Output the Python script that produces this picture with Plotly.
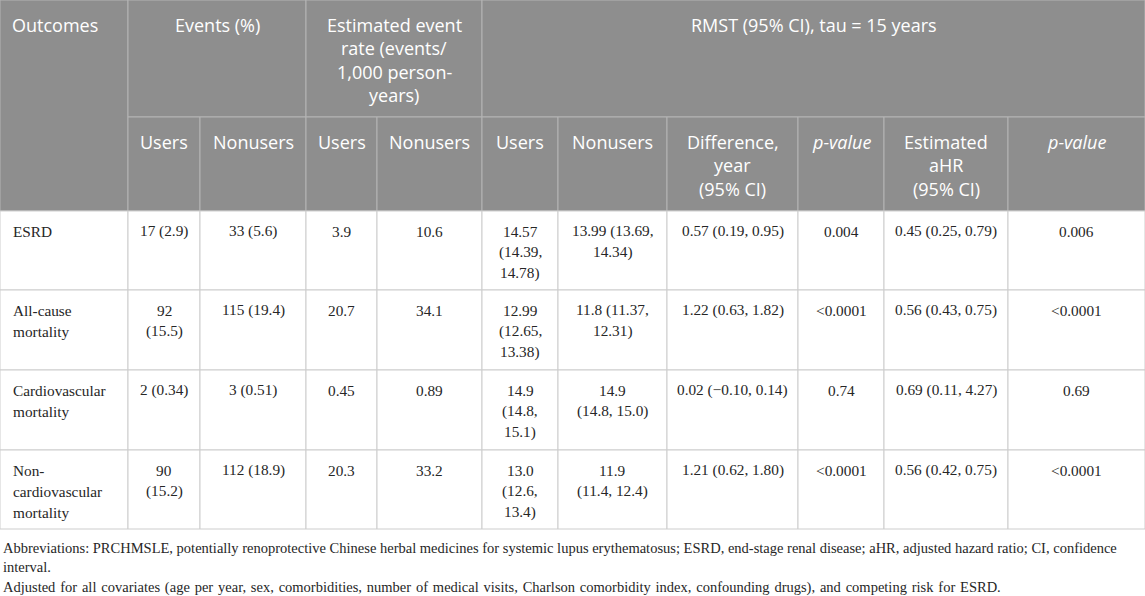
import plotly.graph_objects as go

# ---------------- data ----------------
outcomes = ["ESRD", "All-cause\nmortality", "Cardiovascular\nmortality", "Non-\ncardiovascular\nmortality"]
events_users = ["17 (2.9)", "92\n(15.5)", "2 (0.34)", "90\n(15.2)"]
events_nonusers = ["33 (5.6)", "115 (19.4)", "3 (0.51)", "112 (18.9)"]
rate_users = ["3.9", "20.7", "0.45", "20.3"]
rate_nonusers = ["10.6", "34.1", "0.89", "33.2"]
rmst_users = ["14.57\n(14.39,\n14.78)", "12.99\n(12.65,\n13.38)", "14.9\n(14.8,\n15.1)", "13.0\n(12.6,\n13.4)"]
rmst_nonusers = ["13.99 (13.69,\n14.34)", "11.8 (11.37,\n12.31)", "14.9\n(14.8, 15.0)", "11.9\n(11.4, 12.4)"]
rmst_diff = ["0.57 (0.19, 0.95)", "1.22 (0.63, 1.82)", "0.02 (\u22120.10, 0.14)", "1.21 (0.62, 1.80)"]
rmst_p = ["0.004", "<0.0001", "0.74", "<0.0001"]
ahr = ["0.45 (0.25, 0.79)", "0.56 (0.43, 0.75)", "0.69 (0.11, 4.27)", "0.56 (0.42, 0.75)"]
ahr_p = ["0.006", "<0.0001", "0.69", "<0.0001"]

group_headers = ["Outcomes", "Events (%)", "Estimated event\nrate (events/\n1,000 person-\nyears)",
                 "RMST (95% CI), tau = 15 years"]
sub_headers = ["Users", "Nonusers", "Users", "Nonusers", "Users", "Nonusers",
               "Difference,\nyear\n(95% CI)", "<i>p-value</i>", "Estimated\naHR\n(95% CI)", "<i>p-value</i>"]

footnotes = [
    "Abbreviations: PRCHMSLE, potentially renoprotective Chinese herbal medicines for systemic lupus erythematosus; ESRD, end-stage renal disease; aHR, adjusted hazard ratio; CI, confidence",
    "interval.",
    "Adjusted for all covariates (age per year, sex, comorbidities, number of medical visits, Charlson comorbidity index, confounding drugs), and competing risk for ESRD.",
]

# ---------------- layout constants ----------------
W, H = 1145, 596
col_edges = [0, 128, 200, 306, 377, 482, 558, 667, 798, 884, 1008, 1145]
group_spans = [(0, 1), (1, 3), (3, 5), (5, 11)]
hdr_y = [0, 117, 211]
body_y = [211, 290, 370, 450, 529]
foot_y = [548, 567, 587]
foot_wide_spacing = [False, False, True]

HDR_FILL = "#8e8e8e"
HDR_LINE = "#b4b4b4"
BODY_LINE = "#cdcdcd"
hdr_font = dict(family="Open Sans", size=18, color="white")
body_font = dict(family="Liberation Serif", size=15.3, color="#262626")
foot_font = dict(family="Liberation Serif", size=14.5, color="#262626")

shapes = []
annotations = []


def rect(x0, x1, y0, y1, fill, line):
    shapes.append(dict(type="rect", xref="x", yref="y", x0=x0, x1=x1, y0=y0, y1=y1,
                       fillcolor=fill, line=dict(color=line, width=1), layer="below"))


def put_text(txt, x0, x1, ytop, first, lh, align, font, pad=10):
    for i, s in enumerate(txt.split("\n")):
        if align == "left":
            x, xa = x0 + pad, "left"
        else:
            x, xa = (x0 + x1) / 2, "center"
        annotations.append(dict(x=x, y=ytop + first + i * lh, xref="x", yref="y", text=s,
                                showarrow=False, xanchor=xa, yanchor="middle", font=font))


# header row 1 (group headers)
for k, (a, b) in enumerate(group_spans):
    x0, x1 = col_edges[a], col_edges[b]
    y1 = hdr_y[2] if k == 0 else hdr_y[1]
    rect(x0, x1, hdr_y[0], y1, HDR_FILL, HDR_LINE)
    put_text(group_headers[k], x0, x1, hdr_y[0], 25, 23.3, "left" if k == 0 else "center", hdr_font)

# header row 2 (sub headers)
for j, s in enumerate(sub_headers):
    x0, x1 = col_edges[j + 1], col_edges[j + 2]
    rect(x0, x1, hdr_y[1], hdr_y[2], HDR_FILL, HDR_LINE)
    put_text(s, x0, x1, hdr_y[1], 25, 23.3, "center", hdr_font)

# body
columns = [outcomes, events_users, events_nonusers, rate_users, rate_nonusers,
           rmst_users, rmst_nonusers, rmst_diff, rmst_p, ahr, ahr_p]
for r in range(len(outcomes)):
    y0, y1 = body_y[r], body_y[r + 1]
    for c, col in enumerate(columns):
        x0, x1 = col_edges[c], col_edges[c + 1]
        rect(x0, x1, y0, y1, "white", BODY_LINE)
        put_text(col[r].replace("<", "&lt;"), x0, x1, y0, 20, 21, "left" if c == 0 else "center", body_font, pad=11)

# footnotes
for s, y, wide in zip(footnotes, foot_y, foot_wide_spacing):
    if wide:
        s = s.replace(" ", " \u200a")
    annotations.append(dict(x=1, y=y, xref="x", yref="y", text=s, showarrow=False,
                            xanchor="left", yanchor="middle", font=foot_font))

fig = go.Figure()
fig.update_layout(
    width=W, height=H, margin=dict(l=0, r=0, t=0, b=0),
    paper_bgcolor="white", plot_bgcolor="white",
    xaxis=dict(range=[0, W], visible=False, fixedrange=True),
    yaxis=dict(range=[H, 0], visible=False, fixedrange=True),
    shapes=shapes, annotations=annotations, showlegend=False,
)
fig.write_html(
    "out.html",
    config={"displayModeBar": False},
    post_script="document.body.style.margin='0';document.body.style.overflow='hidden';",
)
